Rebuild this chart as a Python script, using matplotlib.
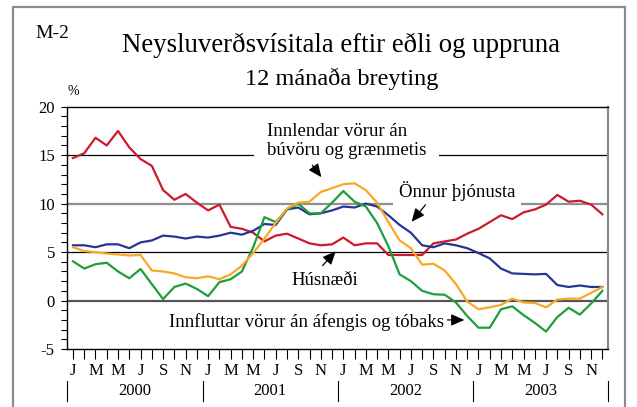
import numpy as np
import matplotlib
matplotlib.use("Agg")
import matplotlib.pyplot as plt
from matplotlib.patches import Rectangle
from matplotlib.transforms import blended_transform_factory

plt.rcParams['font.family'] = ['Liberation Serif', 'DejaVu Serif']

# 12 mánaða breyting, jan 2000 - des 2003
years = ['2000', '2001', '2002', '2003']
month_letters = ['J', 'M', 'M', 'J', 'S', 'N']

husnaedi = [14.7, 15.2, 16.8, 16.0, 17.5, 15.8, 14.6, 13.9, 11.4, 10.4, 11.0, 10.1,
            9.3, 9.9, 7.6, 7.4, 7.0, 6.1, 6.7, 6.9, 6.4, 5.9, 5.7, 5.8,
            6.5, 5.7, 5.9, 5.9, 4.7, 4.7, 4.7, 4.7, 5.9, 6.1, 6.3, 6.9,
            7.4, 8.1, 8.8, 8.4, 9.1, 9.4, 9.9, 10.9, 10.2, 10.3, 9.9, 8.9]

onnur_thjonusta = [5.7, 5.7, 5.5, 5.8, 5.8, 5.4, 6.0, 6.2, 6.7, 6.6, 6.4, 6.6,
                   6.5, 6.7, 7.0, 6.8, 7.2, 7.9, 7.8, 9.4, 9.6, 8.9, 9.0, 9.3,
                   9.7, 9.6, 10.0, 9.7, 8.8, 7.8, 7.0, 5.7, 5.5, 5.9, 5.7, 5.4,
                   4.9, 4.35, 3.3, 2.8, 2.75, 2.7, 2.75, 1.6, 1.4, 1.55, 1.4, 1.4]

innlendar = [5.5, 5.1, 5.0, 4.85, 4.75, 4.65, 4.7, 3.1, 3.0, 2.8, 2.4, 2.3,
             2.5, 2.2, 2.7, 3.6, 4.9, 6.4, 8.0, 9.5, 10.1, 10.2, 11.2, 11.6,
             12.0, 12.1, 11.4, 10.1, 8.1, 6.2, 5.4, 3.7, 3.8, 3.1, 1.7, -0.1,
             -0.9, -0.7, -0.45, 0.2, -0.2, -0.25, -0.7, 0.1, 0.2, 0.2, 0.8, 1.4]

innfluttar = [4.05, 3.3, 3.75, 3.9, 3.0, 2.3, 3.25, 1.7, 0.15, 1.4, 1.75, 1.2,
              0.45, 1.9, 2.2, 3.0, 5.5, 8.6, 8.1, 9.4, 10.0, 9.0, 9.0, 10.1,
              11.3, 10.2, 9.7, 8.0, 5.6, 2.7, 2.0, 1.0, 0.65, 0.6, -0.2, -1.6,
              -2.8, -2.8, -0.9, -0.6, -1.5, -2.3, -3.2, -1.7, -0.75, -1.45, -0.3, 1.0]

x = np.arange(len(husnaedi))

fig = plt.figure(figsize=(6.37, 4.07), dpi=100)
ax = fig.add_axes([0.1057, 0.1425, 0.8488, 0.5953])

# rammi um myndina
fig.patches.append(Rectangle((0.021, -0.05), 0.960, 1.032, transform=fig.transFigure,
                             fill=False, edgecolor='#8a8a8a', lw=1.6))

# láréttar línur
ax.axhline(15, color='black', lw=0.9, zorder=1)
ax.axhline(10, color='#8f8f8f', lw=1.6, zorder=1)
ax.axhline(5, color='black', lw=0.9, zorder=1)
ax.axhline(0, color='#555555', lw=1.6, zorder=1)

ax.plot(x, husnaedi, color='#cc1a2c', lw=1.6, zorder=4)
ax.plot(x, onnur_thjonusta, color='#283593', lw=1.6, zorder=4)
ax.plot(x, innfluttar, color='#1e9e3a', lw=1.6, zorder=4)
ax.plot(x, innlendar, color='#f9a825', lw=1.6, zorder=4)

ax.set_xlim(-0.5, 47.5)
ax.set_ylim(-5, 20)

ax.set_yticks([-5, 0, 5, 10, 15, 20])
ax.set_yticklabels(['-5', '0', '5', '10', '15', '20'], fontsize=12)
ax.set_yticks(np.arange(-5, 21, 1), minor=True)
ax.tick_params(axis='y', which='both', direction='out', length=4, width=0.8, pad=5)

ax.set_xticks(x)
ax.set_xticklabels([month_letters[i // 2] if i % 2 == 0 else '' for i in range(12)] * 4,
                   fontsize=12)
ax.tick_params(axis='x', direction='out', length=7, width=0.8, pad=3)

for side in ['left', 'top', 'bottom']:
    ax.spines[side].set_color('black')
    ax.spines[side].set_linewidth(1.0)
ax.spines['right'].set_color('#8a8a8a')
ax.spines['right'].set_linewidth(1.6)

# ár undir ásnum
tr = blended_transform_factory(ax.transData, ax.transAxes)
for k, yr in enumerate(years):
    ax.text(12 * k + 5.5, -0.172, yr, transform=tr, ha='center', va='center', fontsize=12)
for k in range(len(years) + 1):
    ax.plot([12 * k - 0.5, 12 * k - 0.5], [-0.132, -0.215], transform=tr,
            color='black', lw=0.8, clip_on=False)

ax.text(-0.5, 20.9, '%', fontsize=10, ha='left', va='bottom')

fig.text(0.055, 0.918, 'M-2', fontsize=14, ha='left', va='center')
fig.text(0.535, 0.888, 'Neysluverðsvísitala eftir eðli og uppruna', fontsize=19.4,
         ha='center', va='center')
fig.text(0.537, 0.805, '12 mánaða breyting', fontsize=17.5, ha='center', va='center')

ax.text(17.2, 16.5, 'Innlendar vörur án\nbúvöru og grænmetis', fontsize=13.5,
        ha='left', va='center', linespacing=1.15,
        bbox=dict(facecolor='white', edgecolor='none', pad=9), zorder=2)
ax.text(34.1, 11.3, 'Önnur þjónusta', fontsize=13.5, ha='center', va='center',
        bbox=dict(facecolor='white', edgecolor='none', pad=4), zorder=2)
ax.text(22.4, 2.1, 'Húsnæði', fontsize=13.5, ha='center', va='center', zorder=2)
ax.text(32.95, -2.2, 'Innfluttar vörur án áfengis og tóbaks', fontsize=13.5,
        ha='right', va='center', zorder=2)

arrow = dict(arrowstyle='-|>,head_length=0.8,head_width=0.35', color='black', lw=0.9)
ax.annotate('', xy=(22.2, 12.5), xytext=(21.1, 14.2), arrowprops=arrow, zorder=5)
ax.annotate('', xy=(29.9, 7.9), xytext=(31.45, 10.1), arrowprops=arrow, zorder=5)
ax.annotate('', xy=(23.5, 5.3), xytext=(22.0, 3.4), arrowprops=arrow, zorder=5)
ax.annotate('', xy=(35.0, -2.0), xytext=(33.0, -2.0), arrowprops=arrow, zorder=5)

fig.savefig('out.png', dpi=100)
